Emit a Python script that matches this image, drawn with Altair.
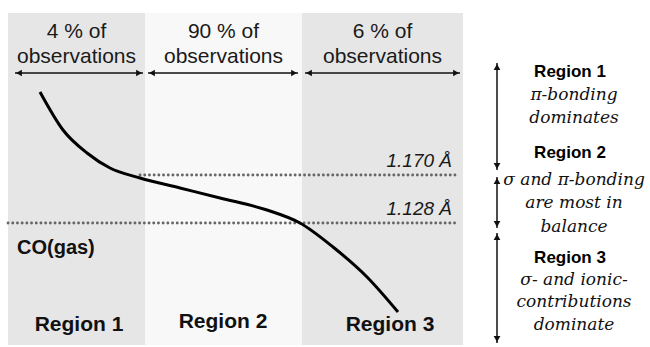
import altair as alt
import pandas as pd

# ---- data -------------------------------------------------------------
# three observation regions along the horizontal axis
region_names = ["Region 1", "Region 2", "Region 3"]
region_x0 = [8, 145, 302]
region_x1 = [145, 302, 463]
region_fill = ["#e6e6e6", "#f8f8f8", "#e6e6e6"]
share_pct = [4, 90, 6]

# schematic C–O bond-length curve
curve_x = [40, 63, 87, 110, 140, 180, 220, 267, 300, 333, 367, 398]
curve_y = [92, 130, 153, 168, 178, 188, 198, 210, 223, 247, 277, 312]

# reference bond lengths (dotted guides)
ref_labels = ["1.170 Å", "1.128 Å"]
ref_y = [175, 223]
ref_x0 = [140, 8]

# right-hand legend: vertical extent of each regime and its description
regime_top = [63, 177, 233]
regime_bottom = [170, 228, 343]
regime_title_y = [72, 153, 258]
regime_lines = [
    ["π-bonding", "dominates"],
    ["σ and π-bonding", "are most in", "balance"],
    ["σ- and ionic-", "contributions", "dominate"],
]
regime_line_y = [[95, 118], [180, 203, 227], [280, 302, 325]]

W, H = 650, 347
xs = alt.Scale(domain=[0, W], nice=False, zero=False)
ys = alt.Scale(domain=[0, H], nice=False, zero=False, reverse=True)
X = lambda f: alt.X(f, scale=xs, axis=None)
Y = lambda f: alt.Y(f, scale=ys, axis=None)

SANS = "Liberation Sans"
SERIF = "DejaVu Serif"

# ---- tables -----------------------------------------------------------
panels = pd.DataFrame({"x0": region_x0, "x1": region_x1, "fill": region_fill,
                       "y0": [13] * 3, "y1": [345] * 3})

centers = [(a + b) / 2 for a, b in zip(region_x0, region_x1)]
top_text = pd.DataFrame({
    "x": centers * 2,
    "y": [32] * 3 + [57] * 3,
    "t": [f"{p} % of" for p in share_pct] + ["observations"] * 3,
})

arrow_l = [15, 148, 305]
arrow_r = [143, 298, 460]
harrow = pd.DataFrame({"x0": arrow_l, "x1": arrow_r, "y": [73] * 3})
hheads = pd.DataFrame({
    "x": [a + 4 for a in arrow_l] + [b - 4 for b in arrow_r],
    "y": [73] * 6,
    "shape": ["triangle-left"] * 3 + ["triangle-right"] * 3,
})

curve = pd.DataFrame({"x": curve_x, "y": curve_y})
refs = pd.DataFrame({"x0": ref_x0, "x1": [457, 457], "y": ref_y,
                     "label": ref_labels})

bottom_text = pd.DataFrame({"x": [79, 223, 390], "y": [325, 322, 325],
                            "t": region_names})

varrow = pd.DataFrame({"x": [497] * 3, "y0": regime_top, "y1": regime_bottom})
vheads = pd.DataFrame({
    "x": [497] * 6,
    "y": [t + 4 for t in regime_top] + [b - 4 for b in regime_bottom],
    "shape": ["triangle-up"] * 3 + ["triangle-down"] * 3,
})
regime_titles = pd.DataFrame({"x": [570] * 3, "y": regime_title_y,
                              "t": region_names})
regime_desc = pd.DataFrame({
    "x": [574] * sum(len(l) for l in regime_lines),
    "y": [y for ys_ in regime_line_y for y in ys_],
    "t": [t for l in regime_lines for t in l],
})

# ---- layers -----------------------------------------------------------
bg = alt.Chart(panels).mark_rect().encode(
    x=X("x0:Q"), x2="x1", y=Y("y0:Q"), y2="y1",
    color=alt.Color("fill:N", scale=None))

top = alt.Chart(top_text).mark_text(font=SANS, fontSize=21, color="#1a1a1a").encode(
    x=X("x:Q"), y=Y("y:Q"), text="t:N")

hshaft = alt.Chart(harrow).mark_rule(color="#111", strokeWidth=1.5).encode(
    x=X("x0:Q"), x2="x1", y=Y("y:Q"))
hhead = alt.Chart(hheads).mark_point(filled=True, size=45, color="#111", opacity=1).encode(
    x=X("x:Q"), y=Y("y:Q"), shape=alt.Shape("shape:N", scale=None))

guides = alt.Chart(refs).mark_rule(color="#666", strokeWidth=2.8,
                                   strokeDash=[0.1, 4.6], strokeCap="round").encode(
    x=X("x0:Q"), x2="x1", y=Y("y:Q"))
guide_lbl = alt.Chart(refs).mark_text(font=SANS, fontSize=19, fontStyle="italic",
                                      align="right", baseline="bottom",
                                      color="#1a1a1a", dy=-4).encode(
    x=alt.value(452), y=Y("y:Q"), text="label:N")

line = alt.Chart(curve).mark_line(color="#000", strokeWidth=3,
                                  interpolate="monotone").encode(
    x=X("x:Q"), y=Y("y:Q"), order="x:Q")

co_gas = alt.Chart(pd.DataFrame({"x": [17], "y": [248], "t": ["CO(gas)"]})).mark_text(
    font=SANS, fontSize=20, fontWeight="bold", align="left", color="#111").encode(
    x=X("x:Q"), y=Y("y:Q"), text="t:N")

bottom = alt.Chart(bottom_text).mark_text(font=SANS, fontSize=21, fontWeight="bold",
                                          color="#111").encode(
    x=X("x:Q"), y=Y("y:Q"), text="t:N")

vshaft = alt.Chart(varrow).mark_rule(color="#111", strokeWidth=1.5).encode(
    x=X("x:Q"), y=Y("y0:Q"), y2="y1")
vhead = alt.Chart(vheads).mark_point(filled=True, size=45, color="#111", opacity=1).encode(
    x=X("x:Q"), y=Y("y:Q"), shape=alt.Shape("shape:N", scale=None))

rtitle = alt.Chart(regime_titles).mark_text(font=SANS, fontSize=17, fontWeight="bold",
                                            color="#000").encode(
    x=X("x:Q"), y=Y("y:Q"), text="t:N")
rdesc = alt.Chart(regime_desc).mark_text(font=SERIF, fontSize=17, fontStyle="italic",
                                         color="#111").encode(
    x=X("x:Q"), y=Y("y:Q"), text="t:N")

chart = alt.layer(
    bg, top, hshaft, hhead, guides, guide_lbl, line, co_gas, bottom,
    vshaft, vhead, rtitle, rdesc,
).properties(
    width=W, height=H, padding=0, autosize=alt.AutoSizeParams(type="none"),
    background="white",
).configure_view(stroke=None)

chart.save("out.html", embed_options={"renderer": "svg", "actions": False})
